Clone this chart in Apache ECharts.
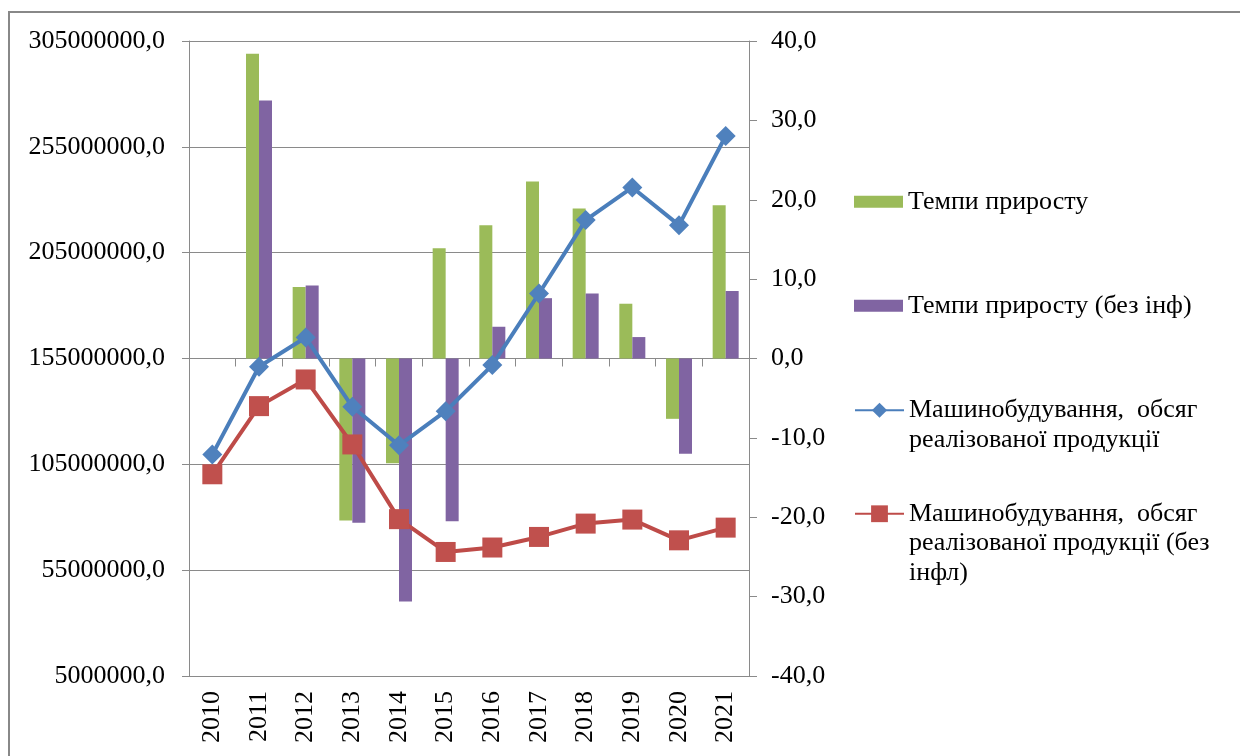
<!DOCTYPE html>
<html lang="uk">
<head>
<meta charset="utf-8">
<title>Машинобудування</title>
<script src="https://cdn.jsdelivr.net/npm/echarts@6/dist/echarts.min.js"></script>
<style>
  html, body { margin: 0; padding: 0; background: #fff; }
  #chart { width: 1240px; height: 756px; }
</style>
</head>
<body>
<div id="chart"></div>
<script type="text/javascript">
  // years on the category axis
  let years = ['2010', '2011', '2012', '2013', '2014', '2015', '2016', '2017', '2018', '2019', '2020', '2021'];

  // growth rates, % (right axis)
  let growth = [null, 38.4, 9.0, -20.4, -13.2, 13.9, 16.8, 22.3, 18.9, 6.9, -7.6, 19.3];
  let growthNoInfl = [null, 32.5, 9.2, -20.7, -30.6, -20.5, 4.0, 7.6, 8.2, 2.7, -12.0, 8.5];

  // sales volume (left axis)
  let volume = [109600000, 151100000, 164900000, 132200000, 114000000, 130100000,
                151900000, 185700000, 220400000, 235800000, 218000000, 260100000];
  let volumeNoInfl = [100300000, 132500000, 145100000, 114400000, 79100000, 63600000,
                      65700000, 70700000, 77000000, 78900000, 69100000, 75100000];

  let names = [
    'Темпи приросту',
    'Темпи приросту (без інф)',
    'Машинобудування, обсяг реалізованої продукції',
    'Машинобудування, обсяг реалізованої продукції (без інфл)'
  ];
  // wrapped legend lines; leading empty lines keep the icon on the first line
  let legendText = [
    'Темпи приросту',
    'Темпи приросту (без інф)',
    '\nМашинобудування,  обсяг\nреалізованої продукції',
    '\n\nМашинобудування,  обсяг\nреалізованої продукції (без\nінфл)'
  ];

  let font = '"Liberation Serif", "Times New Roman", serif';
  let gray = '#8a8a8a';
  let lh = 29.5;

  function fmt(v) {
    return v.toFixed(1).replace('.', ',');
  }

  function legendFor(i, top, itemHeight) {
    return {
      data: [names[i]],
      left: 854,
      top: top,
      orient: 'vertical',
      padding: 0,
      itemWidth: 49,
      itemHeight: itemHeight,
      icon: i < 2 ? 'rect' : undefined,
      selectedMode: false,
      formatter: function () { return legendText[i]; },
      textStyle: {
        fontFamily: font,
        fontSize: 26,
        color: '#000',
        lineHeight: lh
      }
    };
  }

  let Chart = echarts.init(document.getElementById('chart'));

  let option = {
    animation: false,
    backgroundColor: '#fff',
    graphic: [{
      type: 'rect',
      shape: { x: 9, y: 12, width: 1260, height: 780 },
      style: { fill: 'none', stroke: '#888', lineWidth: 2 },
      silent: true
    }],
    legend: [
      legendFor(0, 187, 12),
      legendFor(1, 291, 12),
      legendFor(2, 366, 19),
      legendFor(3, 440, 21)
    ],
    grid: { left: 189, right: 491, top: 41, bottom: 80, containLabel: false },
    xAxis: {
      type: 'category',
      data: years,
      boundaryGap: true,
      axisLine: { lineStyle: { color: gray, width: 1 } },
      axisTick: { show: true, length: 8, lineStyle: { color: gray } },
      axisLabel: {
        rotate: 90,
        margin: 15,
        fontFamily: font,
        fontSize: 26,
        color: '#000',
        interval: 0
      }
    },
    yAxis: [{
      type: 'value',
      min: 5000000,
      max: 305000000,
      interval: 50000000,
      position: 'left',
      axisLine: { show: true, lineStyle: { color: gray } },
      axisTick: { show: true, length: 7, lineStyle: { color: gray } },
      splitLine: { show: true, lineStyle: { color: gray, width: 1 } },
      axisLabel: {
        margin: 24,
        fontFamily: font,
        fontSize: 26,
        color: '#000',
        formatter: fmt
      }
    }, {
      type: 'value',
      min: -40,
      max: 40,
      interval: 10,
      position: 'right',
      axisLine: { show: true, lineStyle: { color: gray } },
      axisTick: { show: true, length: 8, lineStyle: { color: gray } },
      splitLine: { show: false },
      axisLabel: {
        margin: 22,
        fontFamily: font,
        fontSize: 26,
        color: '#000',
        formatter: fmt
      }
    }],
    series: [{
      name: names[0],
      type: 'bar',
      yAxisIndex: 1,
      data: growth,
      barWidth: 13,
      barGap: '0%',
      itemStyle: { color: '#9BBB59' }
    }, {
      name: names[1],
      type: 'bar',
      yAxisIndex: 1,
      data: growthNoInfl,
      barWidth: 13,
      barGap: '0%',
      itemStyle: { color: '#8064A2' }
    }, {
      name: names[2],
      type: 'line',
      yAxisIndex: 0,
      data: volume,
      symbol: 'diamond',
      symbolSize: 20,
      z: 3,
      lineStyle: { color: '#4A7EBB', width: 4 },
      itemStyle: { color: '#4F81BD' }
    }, {
      name: names[3],
      type: 'line',
      yAxisIndex: 0,
      data: volumeNoInfl,
      symbol: 'rect',
      symbolSize: 20,
      z: 4,
      lineStyle: { color: '#BE4B48', width: 4 },
      itemStyle: { color: '#C0504D' }
    }]
  };

  Chart.setOption(option);
</script>
</body>
</html>
